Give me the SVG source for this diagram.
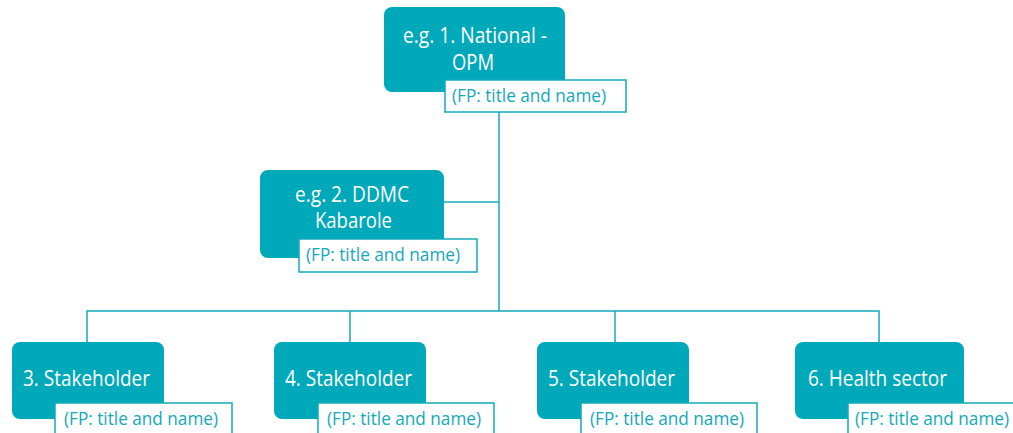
<svg xmlns="http://www.w3.org/2000/svg" width="1013" height="433" viewBox="0 0 1013 433">
  <style>
    .box { fill: #00a9ba; }
    .tag { fill: #ffffff; stroke: #13aabb; stroke-width: 1.5; }
    .name { font-family: "Open Sans", Lato, sans-serif; font-size: 21px; fill: #ffffff; }
    .fp { font-family: "Open Sans", Lato, sans-serif; font-size: 17.5px; fill: #13a8ba; }
    .link { fill: none; stroke: #13aabb; stroke-width: 1.5; }
  </style>
  <rect width="1013" height="433" fill="#ffffff"/>

  <g id="connectors">
    <line class="link" x1="499" y1="112" x2="499" y2="311"/>
    <line class="link" x1="444" y1="202" x2="499" y2="202"/>
    <polyline class="link" points="87,342 87,311 879,311 879,342"/>
    <line class="link" x1="350" y1="311" x2="350" y2="342"/>
    <line class="link" x1="615" y1="311" x2="615" y2="342"/>
  </g>

  <g id="node-national">
    <rect class="box" x="384" y="7" width="181" height="85" rx="8"/>
    <text class="name" x="403" y="43" textLength="144" lengthAdjust="spacingAndGlyphs">e.g. 1. National -</text>
    <text class="name" x="452" y="70" textLength="42" lengthAdjust="spacingAndGlyphs">OPM</text>
    <rect class="tag" x="445" y="80" width="181" height="32"/>
    <text class="fp" x="452" y="102" textLength="154" lengthAdjust="spacingAndGlyphs">(FP: title and name)</text>
  </g>

  <g id="node-ddmc">
    <rect class="box" x="260" y="170" width="184" height="88" rx="8"/>
    <text class="name" x="295" y="202" textLength="114" lengthAdjust="spacingAndGlyphs">e.g. 2. DDMC</text>
    <text class="name" x="315" y="228" textLength="77" lengthAdjust="spacingAndGlyphs">Kabarole</text>
    <rect class="tag" x="299" y="239" width="178" height="33"/>
    <text class="fp" x="306" y="261" textLength="154" lengthAdjust="spacingAndGlyphs">(FP: title and name)</text>
  </g>

  <g id="node-stakeholder-3">
    <rect class="box" x="12" y="342" width="152" height="77" rx="8"/>
    <text class="name" x="23" y="386" textLength="127" lengthAdjust="spacingAndGlyphs">3. Stakeholder</text>
    <rect class="tag" x="55" y="403" width="177" height="40"/>
    <text class="fp" x="64" y="425" textLength="154" lengthAdjust="spacingAndGlyphs">(FP: title and name)</text>
  </g>

  <g id="node-stakeholder-4">
    <rect class="box" x="274" y="342" width="152" height="77" rx="8"/>
    <text class="name" x="285" y="386" textLength="127" lengthAdjust="spacingAndGlyphs">4. Stakeholder</text>
    <rect class="tag" x="318" y="403" width="176" height="40"/>
    <text class="fp" x="327" y="425" textLength="154" lengthAdjust="spacingAndGlyphs">(FP: title and name)</text>
  </g>

  <g id="node-stakeholder-5">
    <rect class="box" x="537" y="342" width="152" height="77" rx="8"/>
    <text class="name" x="548" y="386" textLength="127" lengthAdjust="spacingAndGlyphs">5. Stakeholder</text>
    <rect class="tag" x="581" y="403" width="176" height="40"/>
    <text class="fp" x="590" y="425" textLength="154" lengthAdjust="spacingAndGlyphs">(FP: title and name)</text>
  </g>

  <g id="node-health">
    <rect class="box" x="795" y="342" width="169" height="77" rx="8"/>
    <text class="name" x="808" y="386" textLength="139" lengthAdjust="spacingAndGlyphs">6. Health sector</text>
    <rect class="tag" x="848" y="403" width="180" height="40"/>
    <text class="fp" x="855" y="425" textLength="154" lengthAdjust="spacingAndGlyphs">(FP: title and name)</text>
  </g>
</svg>
